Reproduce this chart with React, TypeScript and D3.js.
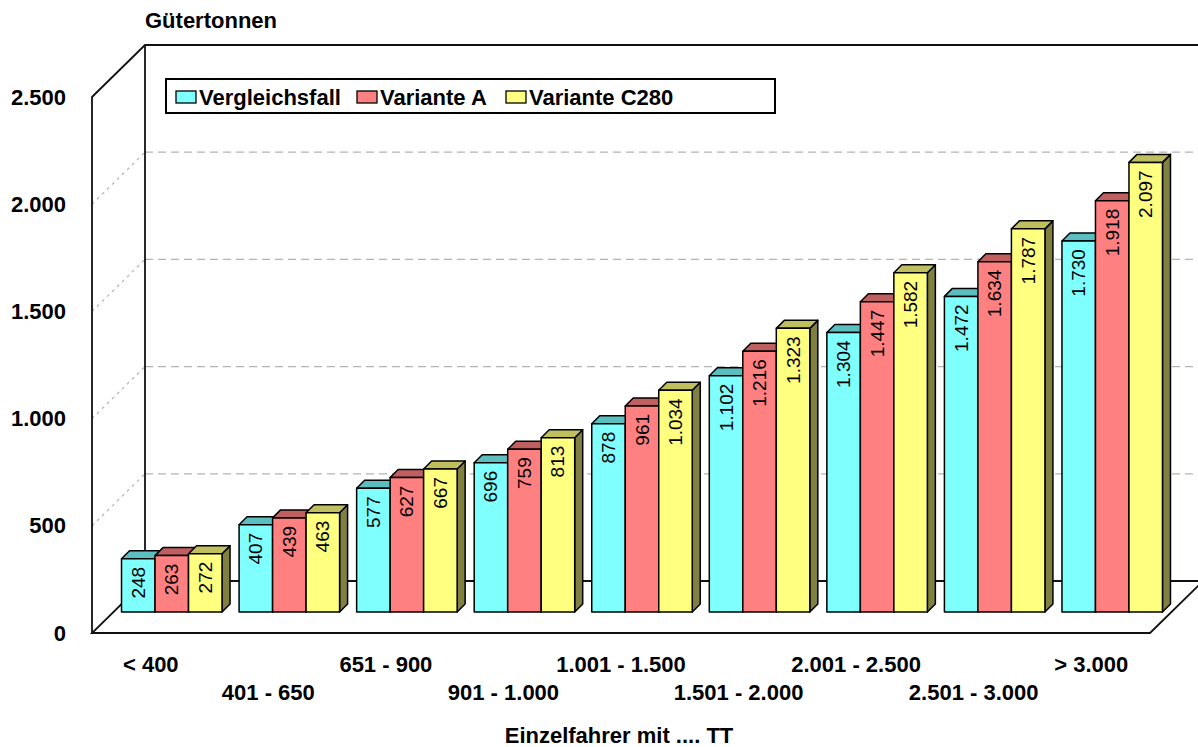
import React from 'react';
import * as d3 from 'd3';

const categories = ['< 400', '401 - 650', '651 - 900', '901 - 1.000', '1.001 - 1.500',
    '1.501 - 2.000', '2.001 - 2.500', '2.501 - 3.000', '> 3.000'];
const vergleichsfall = [248, 407, 577, 696, 878, 1102, 1304, 1472, 1730];
const varianteA = [263, 439, 627, 759, 961, 1216, 1447, 1634, 1918];
const varianteC280 = [272, 463, 667, 813, 1034, 1323, 1582, 1787, 2097];
const yTicks = [0, 500, 1000, 1500, 2000, 2500];

const series = [
    {name: 'Vergleichsfall', values: vergleichsfall, front: '#80FFFF', top: '#5CBFBF', side: '#408080'},
    {name: 'Variante A', values: varianteA, front: '#FF8080', top: '#BF5F5F', side: '#804040'},
    {name: 'Variante C280', values: varianteC280, front: '#FFFF80', top: '#BFBF5F', side: '#808040'},
];

const font = '"Liberation Sans", Arial, sans-serif';
const de = d3.formatLocale({decimal: ',', thousands: '.', grouping: [3], currency: ['', '€']});
const fmt = de.format(',d');

export default function App() {
    // front plane of the 3d box
    const left = 92, right = 1150;
    const dx = 53, dy = -52;           // depth of the box
    const bdx = 21, bdy = -21;         // where the bars stand
    const tx = 8, ty = -8;             // bar thickness

    const y = d3.scaleLinear().domain([0, 2500]).range([633, 97]);
    const x = d3.scaleBand<string>().domain(categories).range([left, right])
        .paddingInner(0.145).paddingOuter(0.0725);
    const xs = d3.scaleBand<string>().domain(series.map(s => s.name)).range([0, x.bandwidth()]);

    const y0 = y(0);
    const yMax = y(2500);
    const backRight = right + dx + 5;

    return (
        <svg width={1198} height={747} style={{position: 'absolute', left: 0, top: 0}}
             fontFamily={font}>
            <rect width={1198} height={747} fill="#fff"/>

            {/* walls */}
            <polygon points={`${left + dx},${yMax + dy} ${backRight},${yMax + dy} ${backRight},${y0 + dy} ${left + dx},${y0 + dy}`}
                     fill="#fff"/>
            {yTicks.slice(1, -1).map(t => (
                <g key={t}>
                    <line x1={left + dx} x2={backRight} y1={y(t) + dy} y2={y(t) + dy}
                          stroke="#b4b4b4" strokeWidth={1.3} strokeDasharray="8,5"/>
                    <line x1={left} x2={left + dx} y1={y(t)} y2={y(t) + dy}
                          stroke="#b4b4b4" strokeWidth={1.2} strokeDasharray="3,4"/>
                </g>
            ))}
            <polyline points={`${left},${y0} ${left},${yMax} ${left + dx},${yMax + dy} ${backRight},${yMax + dy}`}
                      fill="none" stroke="#111" strokeWidth={1.8}/>
            <line x1={left + dx} x2={left + dx} y1={yMax + dy} y2={y0 + dy} stroke="#111" strokeWidth={1.8}/>

            {/* floor */}
            <polygon points={`${left},${y0} ${right},${y0} ${right + dx},${y0 + dy} ${left + dx},${y0 + dy}`}
                     fill="#fff" stroke="#111" strokeWidth={1.8}/>
            <line x1={right + dx} x2={backRight} y1={y0 + dy} y2={y0 + dy} stroke="#111" strokeWidth={1.8}/>

            {/* bars */}
            {categories.map((c, i) => (
                <g key={c}>
                    {series.map(s => {
                        const v = s.values[i];
                        const bx = (x(c) as number) + (xs(s.name) as number) + bdx;
                        const w = xs.bandwidth();
                        const yt = y(v) + bdy;
                        const yb = y0 + bdy;
                        return (
                            <g key={s.name} stroke="#000" strokeWidth={1.5} strokeLinejoin="round">
                                <polygon fill={s.side}
                                         points={`${bx + w},${yt} ${bx + w + tx},${yt + ty} ${bx + w + tx},${yb + ty} ${bx + w},${yb}`}/>
                                <polygon fill={s.top}
                                         points={`${bx},${yt} ${bx + tx},${yt + ty} ${bx + w + tx},${yt + ty} ${bx + w},${yt}`}/>
                                <rect x={bx} y={yt} width={w} height={yb - yt} fill={s.front}/>
                                <text transform={`translate(${bx + w / 2},${yt + 8}) rotate(-90)`}
                                      textAnchor="end" dominantBaseline="central" stroke="none"
                                      fill="#000" fontSize={19}>{fmt(v)}</text>
                            </g>
                        );
                    })}
                </g>
            ))}

            {/* y axis labels */}
            {yTicks.map(t => (
                <text key={t} x={66} y={y(t)} textAnchor="end" dominantBaseline="central"
                      fontWeight="bold" fontSize={22}>{fmt(t)}</text>
            ))}

            {/* x axis labels */}
            {categories.map((c, i) => (
                <text key={c} x={(x(c) as number) + x.bandwidth() / 2} y={i % 2 === 0 ? 664 : 692}
                      textAnchor="middle" dominantBaseline="central" fontWeight="bold" fontSize={22}>{c}</text>
            ))}

            <text x={145} y={20} dominantBaseline="central" fontWeight="bold" fontSize={22}>Gütertonnen</text>
            <text x={619} y={735} textAnchor="middle" dominantBaseline="central" fontWeight="bold"
                  fontSize={22}>Einzelfahrer mit .... TT</text>

            {/* legend */}
            <rect x={166} y={79} width={609} height={34} fill="#fff" stroke="#000" strokeWidth={2}/>
            {series.map((s, i) => {
                const lx = [176, 357, 506][i];
                return (
                    <g key={s.name}>
                        <rect x={lx} y={91} width={20} height={12} fill={s.front} stroke="#000" strokeWidth={1.3}/>
                        <text x={lx + 23} y={97} dominantBaseline="central" fontWeight="bold"
                              fontSize={22}>{s.name}</text>
                    </g>
                );
            })}
        </svg>
    );
}
